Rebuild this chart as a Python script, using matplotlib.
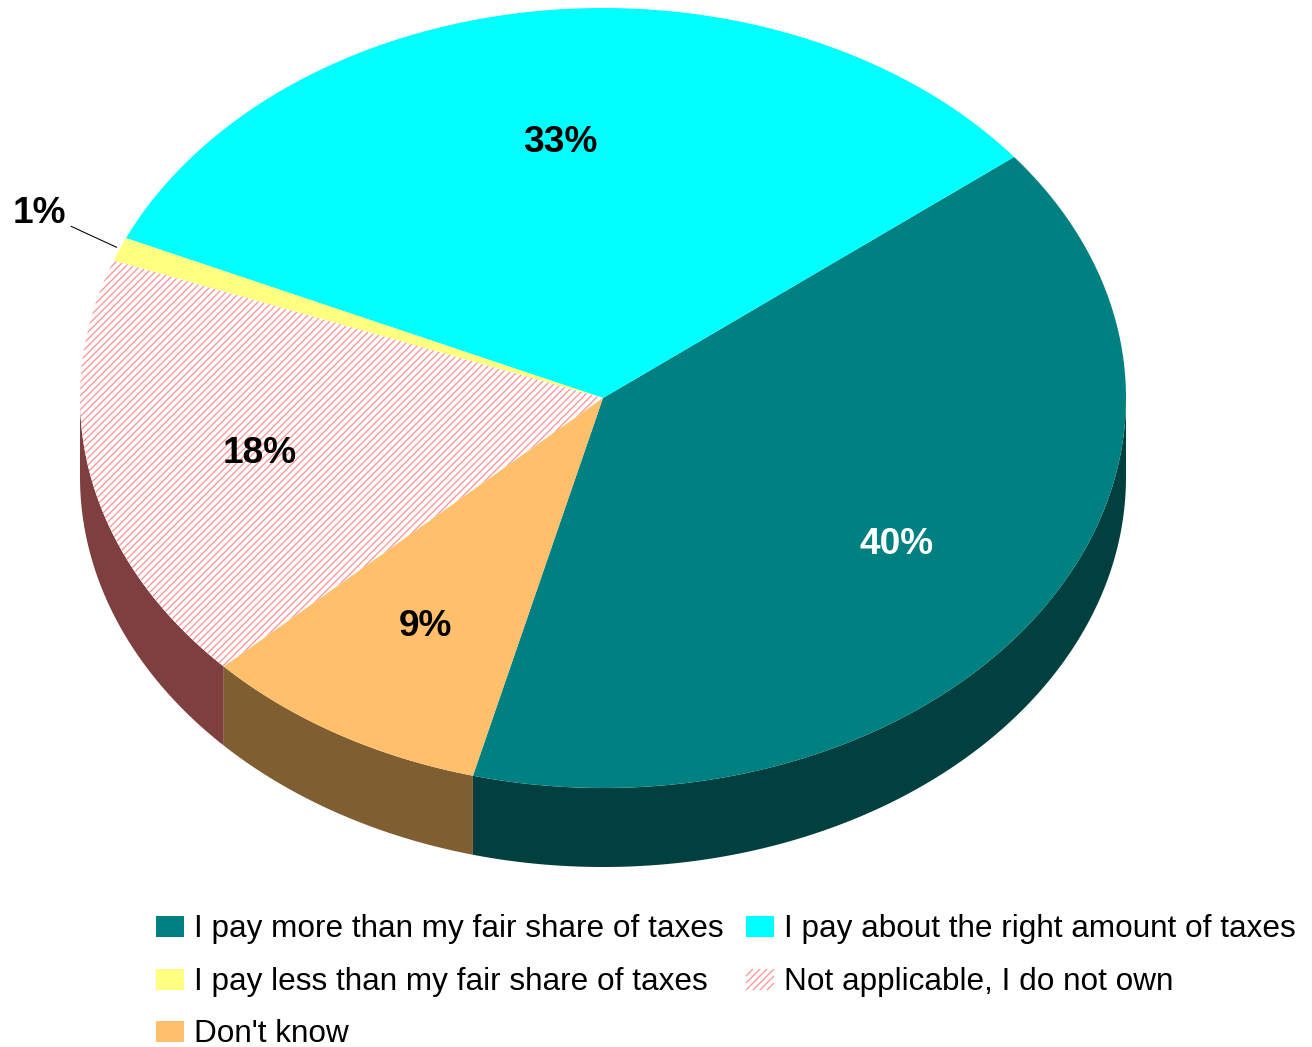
import numpy as np
import matplotlib
matplotlib.use("Agg")
import matplotlib.pyplot as plt
from matplotlib.patches import Polygon, Rectangle

# survey answers, shares in percent
labels = [
    "I pay more than my fair share of taxes",
    "I pay about the right amount of taxes",
    "I pay less than my fair share of taxes",
    "Not applicable, I do not own",
    "Don't know",
]
values = [40, 33, 1, 18, 9]

top_colors = ["#008080", "#00FFFF", "#FFFF80", "white", "#FFBF6B"]
side_colors = ["#024040", "#008080", "#80803F", "#7F3F3F", "#7F5E32"]
hatches = [None, None, None, "////", None]
hatch_color = "#FF8C8C"

DPI = 84
W, H = 1312, 1047
plt.rcParams["font.family"] = ["Liberation Sans", "DejaVu Sans"]
plt.rcParams["hatch.linewidth"] = 1.0


def pt(px):
    return px * 72.0 / DPI


fig = plt.figure(figsize=(W / DPI, H / DPI), dpi=DPI)
ax = fig.add_axes([0, 0, 1, 1])
ax.set_xlim(0, W)
ax.set_ylim(H, 0)
ax.axis("off")

# pie geometry (pixels), tilted disc drawn as an ellipse with a thick rim
cx, cy, rx, ry, depth = 603, 398, 523, 390, 79
start = -104.4


def ell(t, r=1.0, dy=0.0):
    t = np.radians(t)
    return cx + r * rx * np.cos(t), cy - r * ry * np.sin(t) + dy


total = float(sum(values))
spans = [v / total * 360.0 for v in values]
bounds = start + np.concatenate([[0], np.cumsum(spans)])

# rim of the front half
for i in range(len(values)):
    a0, a1 = bounds[i], bounds[i + 1]
    # shift into a range where the front half is 180..360
    while a0 < 0:
        a0 += 360
        a1 += 360
    lo, hi = max(a0, 180), min(a1, 360)
    if hi <= lo:
        continue
    t = np.linspace(lo, hi, 200)
    xt, yt = ell(t)
    xb, yb = ell(t[::-1], dy=depth)
    pts = np.column_stack([np.concatenate([xt, xb]), np.concatenate([yt, yb])])
    ax.add_patch(Polygon(pts, closed=True, facecolor=side_colors[i],
                         edgecolor="none", zorder=1))

# top faces
for i in range(len(values)):
    t = np.linspace(bounds[i], bounds[i + 1], 300)
    xt, yt = ell(t)
    pts = np.column_stack([np.concatenate([[cx], xt]), np.concatenate([[cy], yt])])
    if hatches[i]:
        ax.add_patch(Polygon(pts, closed=True, facecolor="white",
                             edgecolor=hatch_color, linewidth=0,
                             hatch=hatches[i], zorder=2))
    else:
        ax.add_patch(Polygon(pts, closed=True, facecolor=top_colors[i],
                             edgecolor="none", zorder=2))

# value labels
for i, v in enumerate(values):
    mid = (bounds[i] + bounds[i + 1]) / 2
    color = "white" if i == 0 else "black"
    if v < 3:
        x0, y0 = ell(mid, 1.0)
        x1, y1 = ell(mid, 1.1)
        y1 -= 8
        ax.plot([x0 - 3, x1], [y0 - 2, y1], color="black", lw=0.9, zorder=3)
        ax.text(x1 - 5, y1 - 3, f"{v}%", ha="right", va="baseline",
                fontsize=pt(37), fontweight="bold", color=color, zorder=4)
    else:
        x, y = ell(mid, 0.67)
        ax.text(x, y + 13, f"{v}%", ha="center", va="baseline",
                fontsize=pt(37), fontweight="bold", color=color, zorder=4)

# legend, two columns
col_x = [156, 746]
row_base = [937, 990, 1042]
for i, lab in enumerate(labels):
    r, c = divmod(i, 2)
    x, yb = col_x[c], row_base[r]
    if hatches[i]:
        ax.add_patch(Rectangle((x, yb - 21), 28, 21, facecolor="white",
                               edgecolor=hatch_color, linewidth=0,
                               hatch=hatches[i]))
    else:
        ax.add_patch(Rectangle((x, yb - 21), 28, 21, facecolor=top_colors[i],
                               edgecolor="none"))
    ax.text(x + 38, yb, lab, ha="left", va="baseline", fontsize=pt(31.5),
            color="black")

fig.savefig("out.png", dpi=DPI)
